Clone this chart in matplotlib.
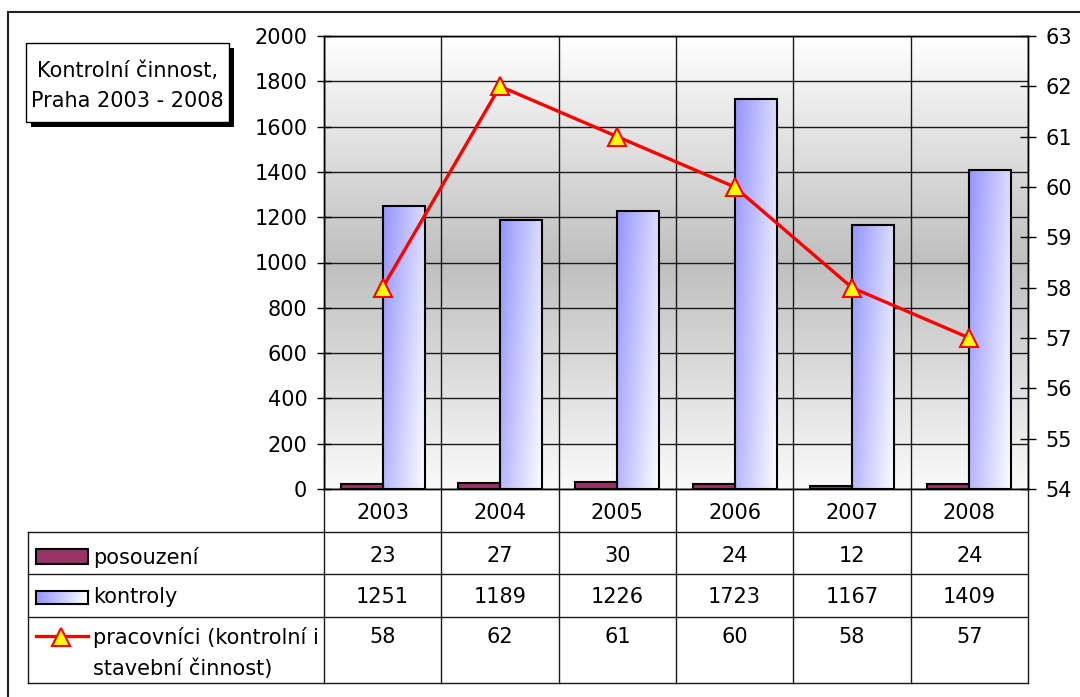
import numpy as np
import matplotlib
matplotlib.use('Agg')
import matplotlib.pyplot as plt
from matplotlib.patches import Rectangle
from matplotlib.lines import Line2D
from matplotlib.colors import LinearSegmentedColormap
import matplotlib.transforms as mtransforms

# ---------------- data ----------------
years = ['2003', '2004', '2005', '2006', '2007', '2008']
posouzeni = [23, 27, 30, 24, 12, 24]
kontroly = [1251, 1189, 1226, 1723, 1167, 1409]
pracovnici = [58, 62, 61, 60, 58, 57]
series_names = ['posouzení', 'kontroly', 'pracovníci (kontrolní i', 'stavební činnost)']
title_lines = ['Kontrolní činnost,', 'Praha 2003 - 2008']
left_ticks = list(range(0, 2001, 200))
right_ticks = list(range(54, 64))

# ---------------- figure ----------------
plt.rcParams['font.family'] = ['DejaVu Sans']
FS = 15
W, H = 1080, 697
fig = plt.figure(figsize=(W / 100, H / 100), dpi=100)
fig.patch.set_facecolor('white')


def fx(px):
    return px / W


def fy(py):
    return 1 - py / H


L, R, T, B = 324, 1028, 36, 489
ax = fig.add_axes([fx(L), fy(B), fx(R) - fx(L), fy(T) - fy(B)])
ax2 = ax.twinx()

n = len(years)
x = np.arange(n)
bw = 0.358

# background gradient (white - gray - white)
bg_cmap = LinearSegmentedColormap.from_list('bg', ['#fafafa', '#bfbfbf', '#ffffff'])
grad = np.linspace(0, 1, 256).reshape(-1, 1)
ax.imshow(grad, cmap=bg_cmap, origin='lower', extent=[-0.5, n - 0.5, 0, 2000],
          aspect='auto', zorder=0)

# gridlines
for v in left_ticks:
    ax.axhline(v, color='#1a1a1a', lw=1.0, zorder=1)
for k in range(n + 1):
    ax.axvline(k - 0.5, color='#1a1a1a', lw=1.0, zorder=1)

# bars
ax.bar(x - bw / 2, posouzeni, width=bw, color='#993366', edgecolor='black',
       linewidth=1.5, zorder=3)
kb = ax.bar(x + bw / 2, kontroly, width=bw, facecolor='none', edgecolor='black',
            linewidth=1.5, zorder=4)
blue = np.array([0.58, 0.58, 1.0])
white = np.array([1.0, 1.0, 1.0])
gx, gy = np.meshgrid(np.linspace(0, 1, 64), np.linspace(0, 1, 128))
for rect in kb:
    t = 0.68 * gx + 0.32 * (1 - gy)  # gy=1 at top (origin lower)
    img = blue[None, None, :] * (1 - t[..., None]) + white[None, None, :] * t[..., None]
    x0 = rect.get_x()
    im = ax.imshow(img, origin='lower', extent=[x0, x0 + rect.get_width(), 0, rect.get_height()],
                   aspect='auto', zorder=2.5, interpolation='bilinear')
    im.set_clip_path(rect)

ax.set_xlim(-0.5, n - 0.5)
ax.set_ylim(0, 2000)
ax.set_yticks(left_ticks)
ax.set_xticks([])
ax.tick_params(axis='y', direction='inout', length=10, width=1, labelsize=FS, pad=7, colors='black')
for s in ax.spines.values():
    s.set_color('black')
    s.set_linewidth(1)

# line on secondary axis
ax2.plot(x, pracovnici, color='red', lw=2.4, marker='^', ms=12.5, mfc='yellow',
         mec='red', mew=1.5, zorder=5)
ax2.set_ylim(54, 63)
ax2.set_yticks(right_ticks)
ax2.tick_params(axis='y', direction='inout', length=11, width=1, labelsize=FS, pad=7, colors='black')
for s in ax2.spines.values():
    s.set_color('black')
    s.set_linewidth(1)

# ---------------- data table ----------------
blend = mtransforms.blended_transform_factory(ax.transData, fig.transFigure)
lc = '#1a1a1a'
for k in range(n + 1):
    fig.add_artist(Line2D([k - 0.5, k - 0.5], [fy(B), fy(683)], transform=blend, color=lc, lw=1))
for yy in [532, 574, 617, 683]:
    fig.add_artist(Line2D([fx(28), fx(R)], [fy(yy), fy(yy)], transform=fig.transFigure, color=lc, lw=1))
fig.add_artist(Line2D([fx(28), fx(28)], [fy(532), fy(683)], transform=fig.transFigure, color=lc, lw=1))

for i, yr in enumerate(years):
    fig.text(i, fy(519), yr, transform=blend, ha='center', va='baseline', fontsize=FS)
    fig.text(i, fy(562), str(posouzeni[i]), transform=blend, ha='center', va='baseline', fontsize=FS)
    fig.text(i, fy(603), str(kontroly[i]), transform=blend, ha='center', va='baseline', fontsize=FS)
    fig.text(i, fy(643), str(pracovnici[i]), transform=blend, ha='center', va='baseline', fontsize=FS)

# legend keys
fig.add_artist(Rectangle((fx(36), fy(564)), fx(52), 15 / H, transform=fig.transFigure,
                         facecolor='#993366', edgecolor='black', lw=1.5))
kax = fig.add_axes([fx(36), fy(604), fx(52), 13 / H])
kax.imshow(np.linspace(0, 1, 64).reshape(1, -1),
           cmap=LinearSegmentedColormap.from_list('k', [tuple(blue), '#ffffff']),
           aspect='auto', extent=[0, 1, 0, 1])
kax.set_xticks([])
kax.set_yticks([])
for s in kax.spines.values():
    s.set_linewidth(1.5)
fig.add_artist(Line2D([fx(36), fx(88)], [fy(636), fy(636)], transform=fig.transFigure,
                      color='red', lw=2.4))
fig.add_artist(Line2D([fx(61)], [fy(637)], transform=fig.transFigure, marker='^', ms=12.5,
                      mfc='yellow', mec='red', mew=1.5, ls='none'))

fig.text(fx(93), fy(564), series_names[0], ha='left', va='baseline', fontsize=FS)
fig.text(fx(93), fy(603), series_names[1], ha='left', va='baseline', fontsize=FS)
fig.text(fx(93), fy(644), series_names[2], ha='left', va='baseline', fontsize=FS)
fig.text(fx(93), fy(675), series_names[3], ha='left', va='baseline', fontsize=FS)

# ---------------- title box ----------------
fig.add_artist(Rectangle((fx(31), fy(127)), fx(203), 79 / H, transform=fig.transFigure,
                         facecolor='black', edgecolor='black', lw=0))
fig.add_artist(Rectangle((fx(26), fy(122)), fx(203), 79 / H, transform=fig.transFigure,
                         facecolor='white', edgecolor='black', lw=1))
fig.text(fx(127.5), fy(77), title_lines[0], ha='center', va='baseline', fontsize=FS)
fig.text(fx(127.5), fy(107), title_lines[1], ha='center', va='baseline', fontsize=FS)

# outer frame
fig.add_artist(Rectangle((fx(8), fy(720)), fx(1100), 708 / H, transform=fig.transFigure,
                         facecolor='none', edgecolor='#222222', lw=1.5, clip_on=False))

fig.savefig('out.png', dpi=100)
